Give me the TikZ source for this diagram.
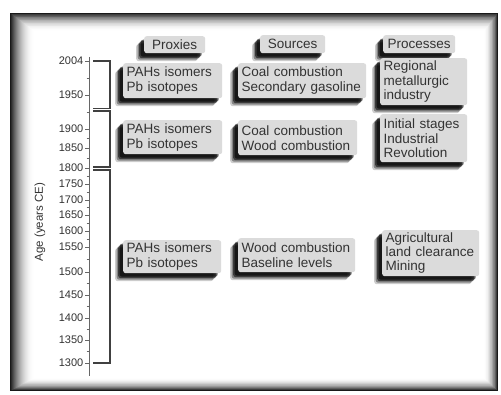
\documentclass[tikz,border=0pt]{standalone}
\usepackage{fontspec}
\setmainfont{Liberation Sans}
\usepackage{tikz}
\usetikzlibrary{shadows}

\tikzset{
  tagbox/.style={fill=black!14, rounded corners=2.5pt, anchor=north west, align=left,
    inner xsep=3.5pt, inner ysep=1pt, text=black!80,
    font=\fontsize{13.5}{15}\selectfont,
    drop shadow={shadow xshift=-8pt, shadow yshift=-8pt, fill=black, opacity=.2},
    drop shadow={shadow xshift=-6.5pt, shadow yshift=-6.5pt, fill=black, opacity=.35},
    drop shadow={shadow xshift=-5pt, shadow yshift=-5pt, fill=black, opacity=.55},
    drop shadow={shadow xshift=-3.5pt, shadow yshift=-3.5pt, fill=black, opacity=.6}},
  headbox/.style={tagbox, align=center},
  threeline/.style={font=\fontsize{13.5}{14.3}\selectfont},
  yearlab/.style={anchor=east, inner sep=0pt, text=black!80, font=\fontsize{11}{13}\selectfont},
  bracket/.style={black!75, line width=1.1pt},
  axisline/.style={black!60, line width=0.8pt},
}

\begin{document}
\begin{tikzpicture}[x=1pt,y=-1pt]
\useasboundingbox (0,0) rectangle (501,395);
% frame with dark soft edge
\foreach \i [evaluate=\i as \c using {90*(1-\i/24)^2}] in {0,...,24}
  \fill [black!\c] ({10+24*\i/24},{13+18*\i/24}) rectangle ({498-14*\i/24},{391-13*\i/24});

% time axis
\draw [axisline] (89,57) -- (89,376);
\foreach \y/\yr in {61/2004, 95/1950, 129/1900, 148/1850, 168/1800, 184/1750, 200/1700,
    215/1650, 231/1600, 247/1550, 272/1500, 295/1450, 318/1400, 340/1350, 363/1300} {
  \draw [axisline] (85,\y) -- (89,\y);
  \node [yearlab] (yr\yr) at (83.5,\y) {\yr};
}
\foreach \y in {78, 112, 138.5, 158, 176, 192, 207.5, 223, 239, 259.5, 283.5, 306.5, 329, 351.5}
  \draw [axisline, line width=0.6pt] (86.5,\y) -- (89,\y);
\node [rotate=90, text=black!80, font=\fontsize{11.5}{13}\selectfont] (agelab) at (40,222) {Age (years CE)};

% period brackets
\coordinate (b1top) at (93,61);
\coordinate (b1bot) at (93,108.5);
\coordinate (b2top) at (93,111);
\coordinate (b2bot) at (93,167);
\coordinate (b3top) at (93,170);
\coordinate (b3bot) at (93,363);
\draw [bracket] (b1top) -- ++(17,0) |- (b1bot);
\draw [bracket] (b2top) -- ++(17,0) |- (b2bot);
\draw [bracket] (b3top) -- ++(17,0) |- (b3bot);

% column heads
\node [headbox, text width=54pt, minimum height=17pt] (proxhead) at (144,36) {Proxies};
\node [headbox, text width=58pt, minimum height=18pt] (srchead) at (260,35) {Sources};
\node [headbox, text width=65pt, minimum height=18pt] (prochead) at (383,35) {Processes};

% 1950-2004
\node [tagbox, text width=92pt, minimum height=35pt] (prox1) at (123,63) {PAHs isomers\\Pb isotopes};
\node [tagbox, text width=121pt, minimum height=35pt] (src1) at (238,63) {Coal combustion\\Secondary gasoline};
\node [tagbox, threeline, text width=80pt, minimum height=47pt] (proc1) at (380,58) {Regional\\metallurgic\\industry};

% 1800-1950
\node [tagbox, text width=92pt, minimum height=34pt] (prox2) at (123,120) {PAHs isomers\\Pb isotopes};
\node [tagbox, text width=112pt, minimum height=35pt] (src2) at (238,120) {Coal combustion\\Wood combustion};
\node [tagbox, threeline, text width=80pt, minimum height=48pt] (proc2) at (380,114) {Initial stages\\Industrial\\Revolution};

% 1300-1800
\node [tagbox, text width=91pt, minimum height=33pt] (prox3) at (123,240) {PAHs isomers\\Pb isotopes};
\node [tagbox, text width=110pt, minimum height=34pt] (src3) at (238,238) {Wood combustion\\Baseline levels};
\node [tagbox, threeline, text width=90pt, minimum height=46pt] (proc3) at (382,230) {Agricultural\\land clearance\\Mining};
\end{tikzpicture}
\end{document}
